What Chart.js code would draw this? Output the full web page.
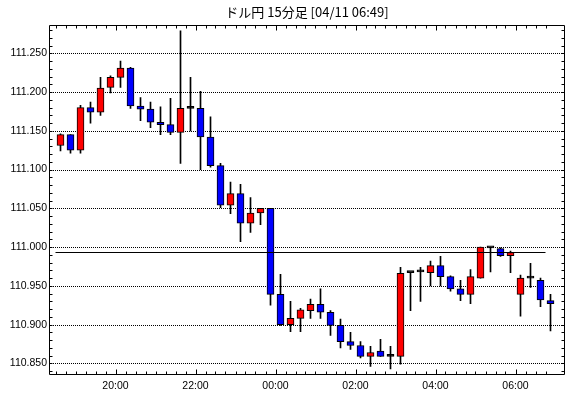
<!DOCTYPE html>
<html>
<head>
<meta charset="utf-8">
<script src="https://cdn.jsdelivr.net/npm/chart.js@4"></script>
<style>
  html, body { margin: 0; padding: 0; background: #fff; }
</style>
</head>
<body>
<canvas id="myChart" width="570" height="398"></canvas>
<script>
// 15-minute candles, start times
var times = ['18:30', '18:45', '19:00', '19:15', '19:30', '19:45', '20:00', '20:15', '20:30', '20:45',
  '21:00', '21:15', '21:30', '21:45', '22:00', '22:15', '22:30', '22:45', '23:00', '23:15',
  '23:30', '23:45', '00:00', '00:15', '00:30', '00:45', '01:00', '01:15', '01:30', '01:45',
  '02:00', '02:15', '02:30', '02:45', '03:00', '03:15', '03:30', '03:45', '04:00', '04:15',
  '04:30', '04:45', '05:00', '05:15', '05:30', '05:45', '06:00', '06:15', '06:30', '06:45'];
var opens = [111.131, 111.145, 111.125, 111.180, 111.174, 111.206, 111.219, 111.231, 111.182, 111.178,
  111.161, 111.158, 111.148, 111.179, 111.179, 111.142, 111.105, 111.054, 111.069, 111.031,
  111.044, 111.050, 110.939, 110.900, 110.908, 110.918, 110.926, 110.916, 110.899, 110.878,
  110.873, 110.859, 110.866, 110.859, 110.859, 110.967, 110.968, 110.967, 110.976, 110.962,
  110.946, 110.939, 110.960, 110.999, 110.998, 110.989, 110.939, 110.960, 110.957, 110.931];
var highs = [111.146, 111.145, 111.183, 111.187, 111.219, 111.221, 111.240, 111.232, 111.193, 111.187,
  111.181, 111.192, 111.279, 111.219, 111.201, 111.168, 111.108, 111.084, 111.081, 111.064,
  111.050, 111.050, 110.965, 110.930, 110.921, 110.933, 110.946, 110.918, 110.907, 110.890,
  110.878, 110.872, 110.881, 110.872, 110.974, 110.967, 110.974, 110.982, 110.988, 110.963,
  110.957, 110.971, 111.000, 111.000, 110.999, 110.995, 110.964, 110.979, 110.960, 110.939];
var lows = [111.124, 111.121, 111.121, 111.160, 111.170, 111.199, 111.206, 111.179, 111.163, 111.154,
  111.145, 111.145, 111.108, 111.150, 111.100, 111.103, 111.051, 111.043, 111.007, 111.019,
  111.029, 110.925, 110.899, 110.891, 110.891, 110.908, 110.908, 110.886, 110.870, 110.868,
  110.857, 110.846, 110.859, 110.843, 110.849, 110.918, 110.930, 110.950, 110.950, 110.943,
  110.931, 110.927, 110.960, 110.968, 110.988, 110.967, 110.911, 110.948, 110.923, 110.892];
var closes = [111.145, 111.125, 111.180, 111.174, 111.205, 111.219, 111.231, 111.182, 111.178, 111.161,
  111.158, 111.148, 111.179, 111.179, 111.142, 111.105, 111.054, 111.069, 111.031, 111.044,
  111.050, 110.939, 110.900, 110.908, 110.919, 110.926, 110.916, 110.899, 110.878, 110.873,
  110.859, 110.864, 110.859, 110.859, 110.966, 110.967, 110.968, 110.976, 110.962, 110.946,
  110.939, 110.962, 111.000, 110.999, 110.989, 110.993, 110.960, 110.960, 110.932, 110.927];
var refLevel = 110.993;
var yTicks = [110.850, 110.900, 110.950, 111.000, 111.050, 111.100, 111.150, 111.200, 111.250];
var xTickLabels = ['20:00', '22:00', '00:00', '02:00', '04:00', '06:00'];

var titleText = 'ドル円 15分足 [04/11 06:49]';

// x tick at the boundary where each labelled candle starts
var xTicks = xTickLabels.map(function (l) { return times.indexOf(l) - 0.5; });

var bodyColors = opens.map(function (o, i) {
  if (closes[i] > o) return '#ff0000';
  if (closes[i] < o) return '#0000ff';
  return '#000000';
});

var framePlugin = {
  id: 'frame',
  beforeDatasetsDraw: function (chart) {
    var ctx = chart.ctx, a = chart.chartArea, y = chart.scales.y;
    ctx.save();
    ctx.strokeStyle = '#000';
    ctx.lineWidth = 1;
    ctx.setLineDash([1, 1]);
    y.ticks.forEach(function (t) {
      var py = Math.round(y.getPixelForValue(t.value)) + 0.5;
      ctx.beginPath();
      ctx.moveTo(a.left, py);
      ctx.lineTo(a.right, py);
      ctx.stroke();
    });
    ctx.restore();
  },
  afterDraw: function (chart) {
    var ctx = chart.ctx, a = chart.chartArea, x = chart.scales.x, y = chart.scales.y;
    var l = Math.round(a.left) + 0.5, r = Math.round(a.right) - 0.5;
    var t = Math.round(a.top) + 0.5, b = Math.round(a.bottom) - 0.5;
    ctx.save();
    ctx.strokeStyle = '#000';
    ctx.lineWidth = 1;
    ctx.beginPath();
    ctx.rect(l, t, r - l, b - t);
    // x ticks, top and bottom, pointing in
    for (var i = 0; i < times.length; i++) {
      var v = i - 0.5;
      var len = xTicks.indexOf(v) >= 0 ? 5 : 3;
      var px = Math.round(x.getPixelForValue(v)) + 0.5;
      ctx.moveTo(px, t); ctx.lineTo(px, t + len);
      ctx.moveTo(px, b); ctx.lineTo(px, b - len);
    }
    // y ticks every 0.01, left and right
    for (var k = 11084; k <= 11128; k++) {
      var py = Math.round(y.getPixelForValue(k / 100)) + 0.5;
      ctx.moveTo(l, py); ctx.lineTo(l + 3, py);
      ctx.moveTo(r, py); ctx.lineTo(r - 3, py);
    }
    ctx.stroke();
    ctx.restore();
  }
};

var ctx = document.getElementById('myChart');
var myChart = new Chart(ctx, {
  type: 'bar',
  data: {
    datasets: [{
      type: 'line',
      data: [{ x: -0.5, y: refLevel }, { x: times.length - 1.5, y: refLevel }],
      borderColor: '#000',
      borderWidth: 1,
      pointRadius: 0,
      order: 0
    }, {
      label: 'body',
      data: times.map(function (tm, i) { return { x: i, y: [opens[i], closes[i]] }; }),
      backgroundColor: bodyColors,
      borderColor: '#000',
      borderWidth: 1,
      borderSkipped: false,
      barThickness: 7,
      minBarLength: 2,
      grouped: false,
      order: 1
    }, {
      label: 'wick',
      data: times.map(function (tm, i) { return { x: i, y: [lows[i], highs[i]] }; }),
      backgroundColor: '#000',
      borderWidth: 0,
      barThickness: 1,
      grouped: false,
      order: 2
    }]
  },
  options: {
    responsive: false,
    animation: false,
    devicePixelRatio: 1,
    layout: { padding: { left: 0, right: 5, top: 0, bottom: 0 } },
    plugins: {
      legend: { display: false },
      tooltip: { enabled: false },
      title: {
        display: true,
        text: titleText,
        fullSize: false,
        color: '#000',
        font: { family: '"Noto Sans CJK JP"', size: 13, weight: 'normal' },
        padding: { top: 4, bottom: 5 }
      }
    },
    scales: {
      x: {
        type: 'linear',
        offset: false,
        min: -1.15,
        max: 50.45,
        afterFit: function (s) { s.height = 23; },
        afterBuildTicks: function (s) { s.ticks = xTicks.map(function (v) { return { value: v }; }); },
        grid: { display: false, drawTicks: false, offset: false },
        border: { display: false },
        ticks: {
          autoSkip: false,
          maxRotation: 0,
          padding: 5,
          color: '#000',
          font: { family: '"Liberation Sans"', size: 10.5 },
          callback: function (v) { return xTickLabels[xTicks.indexOf(v)]; }
        }
      },
      y: {
        min: 110.835,
        max: 111.287,
        afterFit: function (s) { s.width = 49; },
        afterBuildTicks: function (s) { s.ticks = yTicks.map(function (v) { return { value: v }; }); },
        grid: { display: false, drawTicks: false },
        border: { display: false },
        ticks: {
          padding: 2,
          color: '#000',
          font: { family: '"Liberation Sans"', size: 10.5 },
          callback: function (v) { return v.toFixed(3); }
        }
      }
    }
  },
  plugins: [framePlugin]
});
</script>
</body>
</html>
